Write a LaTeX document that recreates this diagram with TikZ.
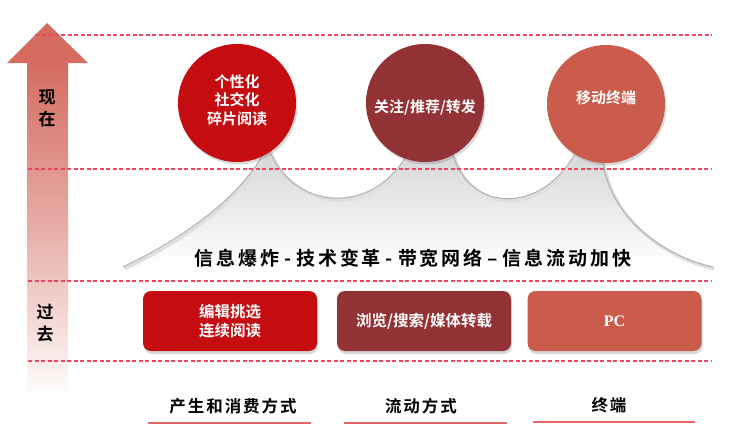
\documentclass[tikz,border=0pt]{standalone}
\usepackage{fontspec}
\setmainfont{Liberation Serif}
\newfontfamily\cjk{Noto Sans CJK SC Bold}
\newfontfamily\cjksp{Noto Sans CJK SC Bold}[LetterSpace=12]
\newfontfamily\cjkmain{Noto Sans CJK SC Bold}[LetterSpace=15]
\usetikzlibrary{shadows}
\definecolor{cA}{RGB}{197,12,16}
\definecolor{cB}{RGB}{146,50,52}
\definecolor{cC}{RGB}{203,92,76}
\definecolor{dashc}{RGB}{236,70,100}
\definecolor{linec}{RGB}{226,102,106}
\definecolor{arrc}{RGB}{212,108,96}
\begin{document}
\begin{tikzpicture}[x=1pt,y=-1pt,
  circ/.style={circle, minimum size=118pt, inner sep=0pt,
    drop shadow={shadow xshift=1.5pt,shadow yshift=-2.5pt,opacity=0.3}},
  ctext/.style={text=white, font=\cjk\fontsize{15}{18.5}\selectfont, align=center, inner sep=0pt},
  boxst/.style={rounded corners=8pt, minimum width=174pt, minimum height=60pt, inner sep=0pt,
    text=white, font=\cjk\fontsize{15.5}{19}\selectfont, align=center,
    drop shadow={shadow xshift=1pt,shadow yshift=-3pt,opacity=0.3}},
  dline/.style={draw=dashc, dash pattern=on 4pt off 2.5pt, line width=1.3pt},
  uline/.style={draw=linec, line width=1.3pt},
  side/.style={font=\cjk\fontsize{17}{22}\selectfont, align=center, inner sep=0pt},
  blbl/.style={font=\cjksp\fontsize{16.5}{20}\selectfont, inner sep=0pt},
  edge/.style={draw=gray!60, line width=1.1pt},
  edgeshadow/.style={draw=gray!25, line width=3pt}
]
\useasboundingbox (0,0) rectangle (745,447);

% arrow
\shade[top color=arrc, bottom color=arrc!55!white] (27,62) rectangle (68,230);
\shade[top color=arrc!55!white, bottom color=white] (27,229.5) rectangle (68,400);
\fill[arrc] (7,63) -- (47,23) -- (88,63) -- cycle;

% gray shape
\shade[top color=gray!40, bottom color=white]
  (123,267) .. controls (190,235) and (240,195) .. (262,156)
  -- (250,120) -- (270,152)
  .. controls (295,210) and (370,215) .. (405,158)
  -- (425,130) -- (453,155)
  .. controls (470,212) and (540,215) .. (575,154)
  -- (600,130) -- (603,162)
  .. controls (610,215) and (660,255) .. (713,267)
  -- cycle;
\begin{scope}[shift={(1.5,2)}]
\draw[edgeshadow] (123,267) .. controls (190,235) and (240,195) .. (262,156);
\draw[edgeshadow] (270,152) .. controls (295,210) and (370,215) .. (405,158);
\draw[edgeshadow] (453,155) .. controls (470,212) and (540,215) .. (575,154);
\draw[edgeshadow] (603,162) .. controls (610,215) and (660,255) .. (713,267);
\end{scope}
\draw[edge] (123,267) .. controls (190,235) and (240,195) .. (262,156);
\draw[edge] (270,152) .. controls (295,210) and (370,215) .. (405,158);
\draw[edge] (453,155) .. controls (470,212) and (540,215) .. (575,154);
\draw[edge] (603,162) .. controls (610,215) and (660,255) .. (713,267);

% dashed lines
\path[dline] (35,35) -- (712,35);
\path[dline] (28,169) -- (712,169);
\path[dline] (28,281) -- (712,281);
\path[dline] (28,361) -- (712,361);

% side labels
\node[side] (now) at (47,108) {现\\在};
\node[side] (past) at (45,323) {过\\去};

% circles
\node[circ, fill=cA] (c1) at (237,103) {};
\node[ctext] (t1) at (237,100) {个性化\\社交化\\碎片阅读};
\node[circ, fill=cB] (c2) at (425,103) {};
\node[ctext] (t2) at (425,107) {关注/推荐/转发};
\node[circ, fill=cC] (c3) at (606,104) {};
\node[ctext] (t3) at (606,98) {移动终端};

% main text
\node[font=\cjkmain\fontsize{19}{22}\selectfont, inner sep=0pt] (main) at (413,258)
  {信息爆炸\kern5pt-\kern5pt技术变革\kern5pt-\kern5pt带宽网络\kern5pt–\kern5pt信息流动加快};

% boxes
\node[boxst, fill=cA] (b1) at (230,321) {编辑挑选\\连续阅读};
\node[boxst, fill=cB] (b2) at (424,321) {浏览/搜索/媒体转载};
\node[boxst, fill=cC, font=\bfseries\fontsize{16}{18}\selectfont] (b3) at (614.5,321) {PC};

% bottom labels
\node[blbl] (l1) at (233,406) {产生和消费方式};
\node[blbl] (l2) at (421,406) {流动方式};
\node[blbl] (l3) at (609,405) {终端};
\path[uline] (148,423) -- (311,423);
\path[uline] (344,423) -- (507,423);
\path[uline] (533,422) -- (695,422);
\end{tikzpicture}
\end{document}
